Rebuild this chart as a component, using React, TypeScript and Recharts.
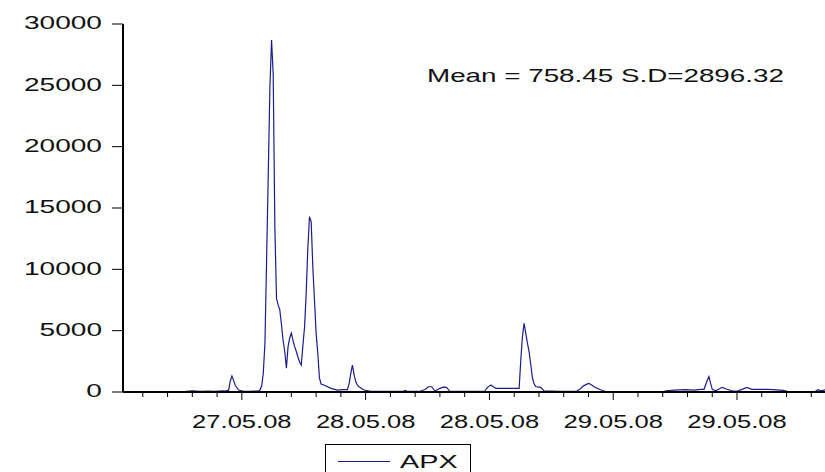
import React from 'react';
import { LineChart, Line, XAxis, YAxis } from 'recharts';

// Observation index of each recorded vertex and the APX value at it
const obs = [
  38, 42, 47, 52, 56, 60, 62, 64, 65, 66, 67, 68, 70, 73, 77, 82, 83, 84, 85, 86,
  87, 88, 89, 90, 91, 92, 93, 94, 95, 96, 97, 98, 99, 100, 101, 102, 103, 104, 105, 106,
  107, 108, 109, 110, 111, 112, 113, 114, 115, 116, 117, 118, 119, 120, 122, 126, 130, 133, 136, 137,
  138, 139, 140, 141, 142, 143, 146, 150, 160, 170, 171, 172, 180, 183, 185, 187, 189, 192, 194, 196,
  198, 210, 219, 221, 223, 224, 226, 232, 239, 240, 241, 242, 243, 244, 245, 246, 247, 248, 249, 250,
  253, 255, 265, 275, 277, 279, 282, 283, 286, 289, 291, 293, 310, 327, 329, 334, 341, 346, 350, 352,
  354, 355, 356, 357, 359, 363, 366, 369, 372, 378, 381, 390, 394, 400, 404, 419, 421, 423, 426, 430,
];
const apx = [
  50, 90, 60, 80, 60, 90, 70, 150, 900, 1300, 950, 550, 160, 60, 50, 80, 160, 490, 1550, 4000,
  10800, 17700, 24800, 28700, 25900, 13500, 7600, 7100, 6700, 5500, 4200, 3300, 1950, 3700, 4400, 4800, 4200, 3700, 3300, 2850,
  2450, 2200, 3800, 5300, 8100, 11800, 14300, 13900, 10200, 7500, 4800, 3200, 1150, 650, 550, 300, 160, 200, 200, 700,
  1500, 2200, 1400, 850, 550, 430, 160, 50, 60, 70, 120, 50, 60, 200, 430, 430, 80, 300, 400, 380,
  60, 50, 60, 400, 570, 450, 300, 300, 300, 300, 2600, 4500, 5600, 4800, 4000, 3300, 2300, 1200, 700, 450,
  380, 100, 60, 80, 250, 500, 700, 650, 380, 200, 100, 20, 10, 20, 100, 160, 190, 160, 220, 220,
  950, 1250, 700, 220, 100, 380, 220, 100, 50, 380, 220, 220, 190, 140, 0, 0, 190, 100, 190, 150,
];

const SERIES_NAME = 'APX';
const STATS_TEXT = 'Mean = 758.45 S.D=2896.32';

const yTicks = [0, 5000, 10000, 15000, 20000, 25000, 30000];
const majorTicks = [72, 147, 222, 297, 372];
const majorLabels = ['27.05.08', '28.05.08', '28.05.08', '29.05.08', '29.05.08'];
const xDomain = [0, 435];
const minorStep = 15;
const firstTick = 12;

const xTicks: number[] = [];
for (let t = firstTick; t <= xDomain[1]; t += minorStep) xTicks.push(t);

const data = obs.map((o, i) => ({ obs: o, apx: apx[i] }));

const FONT = '"Liberation Sans", Arial, sans-serif';
const LINE_COLOR = '#1c1c8c';

const YTick = (props: any) => {
  const { x, y, payload } = props;
  return (
    <text
      transform={`translate(${x},${y}) scale(1.56,1)`}
      textAnchor="end"
      dy="0.3em"
      fontFamily={FONT}
      fontSize={18}
      fill="#111"
    >
      {payload.value}
    </text>
  );
};

const XTick = (props: any) => {
  const { x, y, payload } = props;
  const k = majorTicks.indexOf(payload.value);
  if (k < 0) return null;
  return (
    <g>
      <line x1={x} x2={x} y1={y} y2={y + 3} stroke="#000" strokeWidth={1} />
      <text
        transform={`translate(${x},${y + 31}) scale(1.42,1)`}
        textAnchor="middle"
        fontFamily={FONT}
        fontSize={18}
        fill="#111"
      >
        {majorLabels[k]}
      </text>
    </g>
  );
};

export default function App() {
  return (
    <div
      style={{
        position: 'fixed',
        left: 0,
        top: 0,
        width: 825,
        height: 472,
        overflow: 'hidden',
        background: '#fff',
      }}
    >
      <LineChart
        width={841}
        height={472}
        data={data}
        margin={{ top: 24, right: 0, bottom: 0, left: 0 }}
      >
        <XAxis
          xAxisId="top"
          orientation="top"
          dataKey="obs"
          type="number"
          domain={xDomain}
          allowDataOverflow
          height={0}
          tick={false}
          tickLine={false}
          axisLine={{ stroke: '#000', strokeWidth: 2 }}
        />
        <XAxis
          xAxisId="bottom"
          dataKey="obs"
          type="number"
          domain={xDomain}
          allowDataOverflow
          ticks={xTicks}
          interval={0}
          height={80}
          tickSize={5}
          tickMargin={0}
          tickLine={{ stroke: '#000', strokeWidth: 1 }}
          axisLine={{ stroke: '#000', strokeWidth: 2 }}
          tick={<XTick />}
        />
        <YAxis
          width={123}
          domain={[0, 30000]}
          ticks={yTicks}
          interval={0}
          tickSize={11}
          tickMargin={10}
          tickLine={{ stroke: '#000', strokeWidth: 1 }}
          axisLine={{ stroke: '#000', strokeWidth: 2 }}
          tick={<YTick />}
        />
        <Line
          xAxisId="bottom"
          type="linear"
          dataKey="apx"
          name={SERIES_NAME}
          stroke={LINE_COLOR}
          strokeWidth={1.2}
          dot={false}
          activeDot={false}
          isAnimationActive={false}
        />
      </LineChart>
      <svg
        width={825}
        height={472}
        style={{ position: 'absolute', left: 0, top: 0, pointerEvents: 'none' }}
      >
        <text
          transform="translate(427,82) scale(1.545,1)"
          fontFamily={FONT}
          fontSize={18}
          fill="#111"
        >
          {STATS_TEXT}
        </text>
        <rect x={325.5} y={444.5} width={145} height={40} fill="#fff" stroke="#000" strokeWidth={1} />
        <line x1={338} x2={390} y1={461.5} y2={461.5} stroke={LINE_COLOR} strokeWidth={1.2} />
        <text
          transform="translate(400,468) scale(1.6,1)"
          fontFamily={FONT}
          fontSize={18}
          fill="#111"
        >
          {SERIES_NAME}
        </text>
      </svg>
    </div>
  );
}
